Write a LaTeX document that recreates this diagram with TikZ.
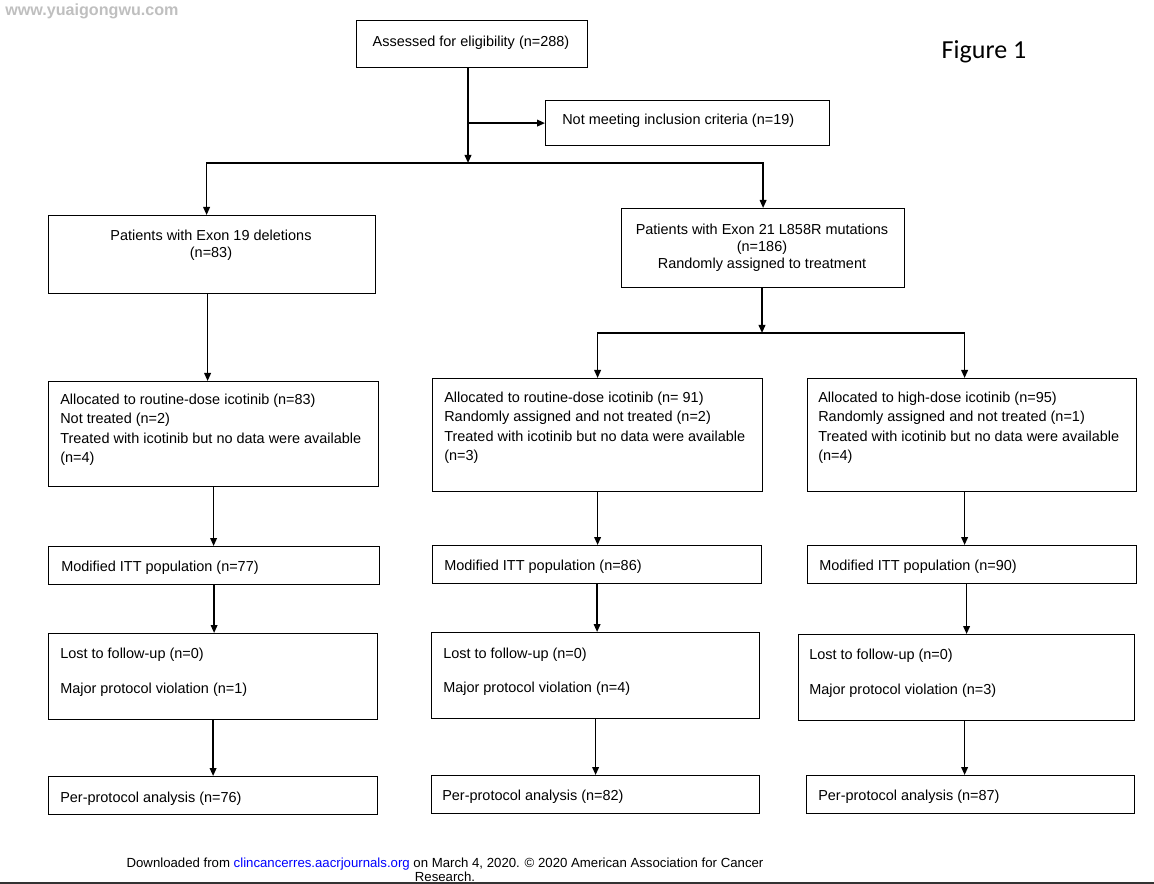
\documentclass[tikz,border=0pt]{standalone}
\usepackage{fontspec}
\setmainfont{Liberation Sans}
\newfontfamily\figfont{Carlito}
\usetikzlibrary{arrows.meta}
\newdimen\px \px=0.75pt

\tikzset{
  box/.style={draw, line width=0.9pt, anchor=north west, inner sep=0pt},
  txt/.style={anchor=north west, align=left, inner sep=0pt, font=\fontsize{10.85}{14.5}\selectfont},
  ctxt/.style={anchor=north, align=center, inner sep=0pt, font=\fontsize{10.85}{12.75}\selectfont},
  arrow/.style={line width=1.2pt, -{Triangle[length=6pt,width=5pt]}},
}

\begin{document}
\begin{tikzpicture}[x=1\px, y=-1\px]
\useasboundingbox (0,0) rectangle (1154,884);

% watermark and title
\node[anchor=west, inner sep=0pt, text=black!25, font=\bfseries\fontsize{12.1}{13}\selectfont] (wmark) at (5,11) {www.yuaigongwu.com};
\node[inner sep=0pt, font=\figfont\fontsize{19.5}{20}\selectfont] (figtitle) at (984,52) {Figure 1};

% top part
\node[box, minimum width=231\px, minimum height=47\px] (elig) at (356,20) {};
\node[ctxt] (eligtxt) at (471,35.8) {Assessed for eligibility (n=288)};
\node[box, minimum width=284\px, minimum height=45\px] (excl) at (545,100) {};
\node[txt] (excltxt) at (562,113.8) {Not meeting inclusion criteria (n=19)};
\node[box, minimum width=327\px, minimum height=78\px] (exon19) at (48,215) {};
\node[ctxt] (exon19txt) at (211,229.8) {Patients with Exon 19 deletions\\(n=83)};
\node[box, minimum width=283\px, minimum height=79\px] (exon21) at (621,208) {};
\node[ctxt] (exon21txt) at (762,223.8) {Patients with Exon 21 L858R mutations\\(n=186)\\Randomly assigned to treatment};

% allocation
\node[box, minimum width=330\px, minimum height=105\px] (allocA) at (48,381) {};
\node[txt] (allocAtxt) at (60,393.8) {Allocated to routine-dose icotinib (n=83)\\Not treated (n=2)\\Treated with icotinib but no data were available\\(n=4)};
\node[box, minimum width=330\px, minimum height=113\px] (allocB) at (432,378) {};
\node[txt] (allocBtxt) at (444,391.8) {Allocated to routine-dose icotinib (n= 91)\\Randomly assigned and not treated (n=2)\\Treated with icotinib but no data were available\\(n=3)};
\node[box, minimum width=329\px, minimum height=113\px] (allocC) at (807,378) {};
\node[txt] (allocCtxt) at (818,391.8) {Allocated to high-dose icotinib (n=95)\\Randomly assigned and not treated (n=1)\\Treated with icotinib but no data were available\\(n=4)};

% modified ITT
\node[box, minimum width=331\px, minimum height=38\px] (ittA) at (48,546) {};
\node[txt] (ittAtxt) at (61,560.8) {Modified ITT population (n=77)};
\node[box, minimum width=329\px, minimum height=38\px] (ittB) at (432,545) {};
\node[txt] (ittBtxt) at (444,559.8) {Modified ITT population (n=86)};
\node[box, minimum width=329\px, minimum height=38\px] (ittC) at (807,545) {};
\node[txt] (ittCtxt) at (819,559.8) {Modified ITT population (n=90)};

% follow-up
\node[box, minimum width=329\px, minimum height=86\px] (lostA) at (48,633) {};
\node[txt] (lostAtxt) at (60,647.8) {Lost to follow-up (n=0)\\[11.75pt]Major protocol violation (n=1)};
\node[box, minimum width=328\px, minimum height=86\px] (lostB) at (431,632) {};
\node[txt] (lostBtxt) at (443,647.8) {Lost to follow-up (n=0)\\[11pt]Major protocol violation (n=4)};
\node[box, minimum width=336\px, minimum height=86\px] (lostC) at (798,634) {};
\node[txt] (lostCtxt) at (809,648.8) {Lost to follow-up (n=0)\\[11.75pt]Major protocol violation (n=3)};

% per-protocol
\node[box, minimum width=329\px, minimum height=38\px] (ppA) at (48,776) {};
\node[txt] (ppAtxt) at (60,791.8) {Per-protocol analysis (n=76)};
\node[box, minimum width=328\px, minimum height=38\px] (ppB) at (431,775) {};
\node[txt] (ppBtxt) at (442,789.8) {Per-protocol analysis (n=82)};
\node[box, minimum width=328\px, minimum height=38\px] (ppC) at (806,775) {};
\node[txt] (ppCtxt) at (818,789.8) {Per-protocol analysis (n=87)};

% connectors
\coordinate (split1) at (468,163);
\draw[arrow] (split1 |- elig.south) -- (split1);
\draw[arrow] (split1 |- excl.west) -- (excl.west);
\draw[arrow] (split1) -| ([xshift=-5.5\px]exon19.north);
\draw[arrow] (split1) -| (exon21.north);
\draw[arrow] ([xshift=-4.5\px]exon19.south) -- ([xshift=-4.5\px]exon19.south |- allocA.north);

\coordinate (split2) at (762,333);
\draw[arrow] (split2 |- exon21.south) -- (split2);
\draw[arrow] (split2) -| (allocB.north);
\draw[arrow] (split2) -| ([xshift=-7.5\px]allocC.north);

\draw[arrow] (allocA.south) -- (allocA.south |- ittA.north);
\draw[arrow] (allocB.south) -- (allocB.south |- ittB.north);
\draw[arrow] ([xshift=-7.5\px]allocC.south) -- ([xshift=-7.5\px]allocC.south |- ittC.north);

\draw[arrow] (ittA.south) -- (ittA.south |- lostA.north);
\draw[arrow] (ittB.south) -- (ittB.south |- lostB.north);
\draw[arrow] (lostC.north |- ittC.south) -- (lostC.north);

\draw[arrow] (lostA.south) -- (lostA.south |- ppA.north);
\draw[arrow] (lostB.south) -- (lostB.south |- ppB.north);
\draw[arrow] ([xshift=-2\px]lostC.south) -- ([xshift=-2\px]lostC.south |- ppC.north);

% footer
\node[anchor=north, align=center, inner sep=0pt, font=\fontsize{9.9}{10.5}\selectfont] (footer) at (445,857.3) {Downloaded from \textcolor{blue}{clincancerres.aacrjournals.org} on March 4, 2020. \textcopyright{} 2020 American Association for Cancer\\Research.};
\draw[line width=1.5\px, black!80] (0,883) -- (1154,883);
\end{tikzpicture}
\end{document}
